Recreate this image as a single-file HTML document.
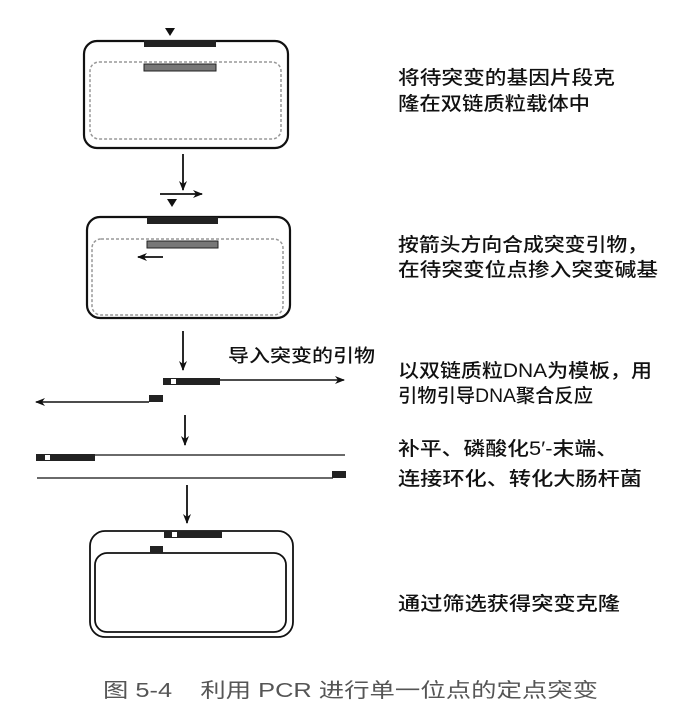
<!DOCTYPE html>
<html><head><meta charset="utf-8"><style>
body{margin:0;background:#fff;width:693px;height:718px;overflow:hidden}
svg{display:block}
text{font-family:"Liberation Sans","Noto Sans CJK SC",sans-serif}
.t{font-size:19px;fill:#111;font-weight:500}
</style></head><body>
<svg width="693" height="718" viewBox="0 0 693 718" xmlns="http://www.w3.org/2000/svg">
<defs>
<marker id="ah" markerWidth="10" markerHeight="8" refX="9" refY="4" orient="auto" markerUnits="userSpaceOnUse"><path d="M0,0 L10,4 L0,8 L3,4Z" fill="#111"/></marker>
</defs>
<g stroke="#111" fill="none">
<polygon points="165,28 175,28 170,36" fill="#111" stroke="none"/>
<rect x="84" y="41" width="204" height="107" rx="13" stroke-width="2.2"/>
<rect x="90" y="62" width="191" height="77" rx="9" stroke="#999" stroke-dasharray="3,2" stroke-width="1.5"/>
<rect x="144" y="40" width="72" height="7" fill="#222" stroke="none"/>
<rect x="144" y="64" width="72" height="7" fill="#777" stroke="#222" stroke-width="1"/>
<line x1="183" y1="154" x2="183" y2="190" stroke-width="1.8" marker-end="url(#ah)"/>
<line x1="160" y1="194" x2="202" y2="194" stroke-width="1.8" marker-end="url(#ah)"/>
<polygon points="167,199 177,199 172,207" fill="#111" stroke="none"/>
<rect x="87" y="217" width="203" height="101" rx="13" stroke-width="2.2"/>
<rect x="92" y="239" width="191" height="76" rx="9" stroke="#999" stroke-dasharray="3,2" stroke-width="1.5"/>
<rect x="147" y="217" width="71" height="7" fill="#222" stroke="none"/>
<rect x="147" y="241" width="71" height="7" fill="#777" stroke="#222" stroke-width="1"/>
<line x1="163" y1="257" x2="138" y2="257" stroke-width="1.8" marker-end="url(#ah)"/>
<line x1="183" y1="331" x2="183" y2="370" stroke-width="1.8" marker-end="url(#ah)"/>
<rect x="163" y="378" width="57" height="7" fill="#222" stroke="none"/>
<rect x="171" y="379" width="5" height="5" fill="#fff" stroke="none"/>
<line x1="220" y1="380" x2="344" y2="380" stroke-width="1.5" marker-end="url(#ah)"/>
<rect x="149" y="395" width="14" height="7" fill="#222" stroke="none"/>
<line x1="149" y1="402" x2="36" y2="402" stroke-width="1.5" marker-end="url(#ah)"/>
<line x1="185" y1="415" x2="185" y2="445" stroke-width="1.8" marker-end="url(#ah)"/>
<rect x="36" y="454" width="59" height="7" fill="#222" stroke="none"/>
<rect x="45" y="455" width="5" height="5" fill="#fff" stroke="none"/>
<line x1="95" y1="455" x2="345" y2="455" stroke-width="1.3"/>
<line x1="37" y1="478" x2="333" y2="478" stroke-width="1.3"/>
<rect x="332" y="471" width="14" height="7" fill="#222" stroke="none"/>
<line x1="187" y1="485" x2="187" y2="523" stroke-width="1.8" marker-end="url(#ah)"/>
<rect x="90" y="531" width="203" height="106" rx="15" stroke-width="1.8"/>
<rect x="95" y="553" width="191" height="79" rx="12" stroke-width="1.8"/>
<rect x="164" y="531" width="58" height="7" fill="#222" stroke="none"/>
<rect x="172" y="532" width="5" height="5" fill="#fff" stroke="none"/>
<rect x="150" y="546" width="13" height="7" fill="#222" stroke="none"/>
</g>
<text x="228" y="362" class="t" style="font-size:18px" textLength="147" lengthAdjust="spacingAndGlyphs">导入突变的引物</text>
<text x="398" y="84" class="t" textLength="217" lengthAdjust="spacingAndGlyphs">将待突变的基因片段克</text>
<text x="398" y="110" class="t" textLength="192" lengthAdjust="spacingAndGlyphs">隆在双链质粒载体中</text>
<text x="398" y="251" class="t" textLength="250" lengthAdjust="spacingAndGlyphs">按箭头方向合成突变引物，</text>
<text x="398" y="276" class="t" textLength="260" lengthAdjust="spacingAndGlyphs">在待突变位点掺入突变碱基</text>
<text x="398" y="377" class="t" textLength="254" lengthAdjust="spacingAndGlyphs">以双链质粒DNA为模板，用</text>
<text x="398" y="402" class="t" textLength="195" lengthAdjust="spacingAndGlyphs">引物引导DNA聚合反应</text>
<text x="398" y="455" class="t" textLength="220" lengthAdjust="spacingAndGlyphs">补平、磷酸化5′-末端、</text>
<text x="398" y="485" class="t" textLength="244" lengthAdjust="spacingAndGlyphs">连接环化、转化大肠杆菌</text>
<text x="398" y="610" class="t" textLength="222" lengthAdjust="spacingAndGlyphs">通过筛选获得突变克隆</text>
<text x="103" y="697" style="font-size:20px;fill:#555" xml:space="preserve" textLength="495" lengthAdjust="spacingAndGlyphs">图 5-4    利用 PCR 进行单一位点的定点突变</text>
</svg>
</body></html>
